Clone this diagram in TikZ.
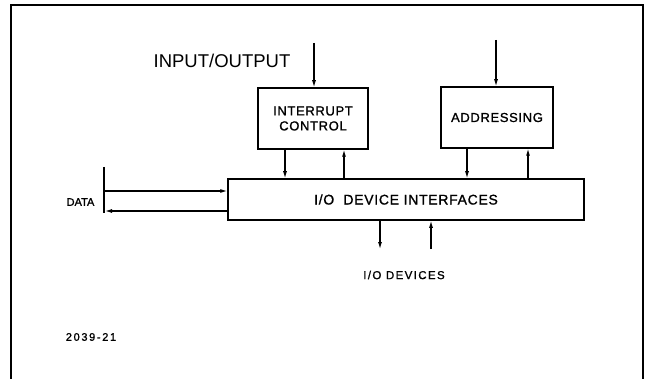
\documentclass[tikz,border=0pt]{standalone}
\usepackage{fontspec}
\setmainfont{Liberation Sans}
\newfontfamily\spaced[LetterSpace=5,FakeBold=1.2]{Liberation Sans}
\newfontfamily\wide[LetterSpace=12,FakeBold=1.2]{Liberation Sans}
\newfontfamily\plainbold[FakeBold=1.2]{Liberation Sans}
\usetikzlibrary{arrows.meta}
\begin{document}
\begin{tikzpicture}[x=1pt,y=-1pt,
  block/.style={draw,line width=1.5pt,inner sep=0pt,align=center},
  sig/.style={line width=1.1pt,-{Latex[length=7pt,width=4pt]}},
  small/.style={inner sep=0pt,font=\wide\fontsize{11}{13}\selectfont}]
\useasboundingbox (0,0) rectangle (652,379);
\fill[white] (0,0) rectangle (652,379);
% frame, open at the bottom
\draw[line width=1.6pt] (11,379) -- (11,5) -- (643,5) -- (643,379);

% blocks
\node[block,minimum width=110pt,minimum height=61pt,font=\spaced\fontsize{13}{15}\selectfont]
  (ic) at (313,118.5) {INTERRUPT\\CONTROL};
\node[block,minimum width=112pt,minimum height=61pt,font=\spaced\fontsize{13}{15}\selectfont]
  (addr) at (497,117.5) {ADDRESSING};
\node[block,minimum width=356pt,minimum height=41pt,font=\spaced\fontsize{14}{16}\selectfont]
  (io) at (406,199.5) {I/O\ \ DEVICE INTERFACES};

% labels
\node[inner sep=0pt,font=\fontsize{18.5}{22}\selectfont] (title) at (222,61) {INPUT/OUTPUT};
\node[inner sep=0pt,font=\plainbold\fontsize{11}{13}\selectfont] (data) at (80.5,202) {DATA};
\node[small,font=\wide\fontsize{11.5}{13}\selectfont] (iodev) at (404,275) {I/O DEVICES};
\node[small,font=\plainbold\fontsize{11}{13}\selectfont\addfontfeatures{LetterSpace=15}] (fig) at (91,337) {2039-21};

% reference points for the connectors
\coordinate (icin) at (314,43);
\coordinate (adin) at (496,40);
\coordinate (d1) at (285,0);
\coordinate (u1) at (344,0);
\coordinate (d2) at (467,0);
\coordinate (u2) at (528,0);
\coordinate (o1) at (380,249);
\coordinate (i1) at (431,249);
\coordinate (bartop) at (104,167);
\coordinate (barbot) at (104,213);
\coordinate (datin) at (104,191);
\coordinate (datout) at (104,211);

% incoming lines from above
\draw[sig] (icin) -- (icin |- ic.north);
\draw[sig] (adin) -- (adin |- addr.north);

% block to interface bus
\draw[sig] (ic.south -| d1) -- (io.north -| d1);
\draw[sig] (io.north -| u1) -- (ic.south -| u1);
\draw[sig] (addr.south -| d2) -- (io.north -| d2);
\draw[sig] (io.north -| u2) -- (addr.south -| u2);

% device side
\draw[sig] (io.south -| o1) -- (o1);
\draw[sig] (i1) -- (i1 |- io.south);

% data bus
\draw[line width=2pt] (bartop) -- (barbot);
\draw[sig] (datin) -- (datin -| io.west);
\draw[sig] (datout -| io.west) -- ([xshift=1pt]datout);
\end{tikzpicture}
\end{document}
